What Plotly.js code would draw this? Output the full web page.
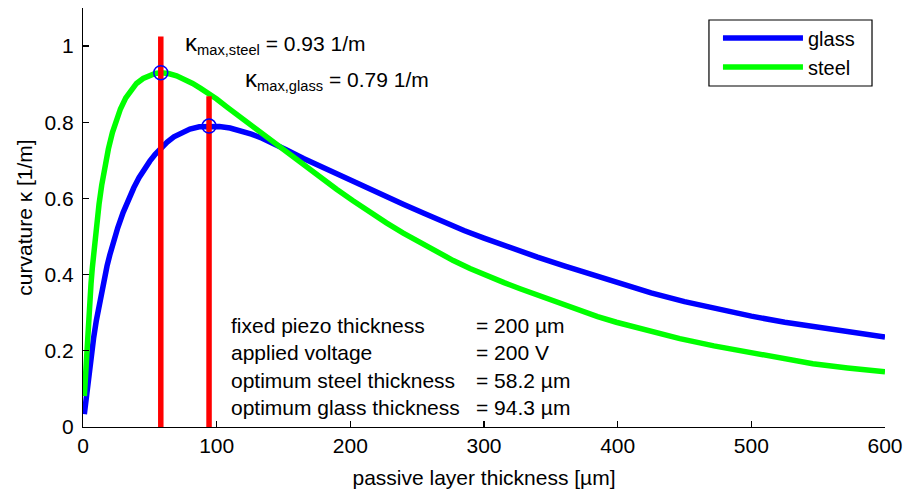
<!DOCTYPE html>
<html>
<head>
<meta charset="utf-8">
<script src="https://cdn.plot.ly/plotly-3.0.1.min.js"></script>
<style>html,body{margin:0;padding:0;background:#fff;}#chart{width:905px;height:492px;}</style>
</head>
<body>
<div id="chart"></div>
<script>
// passive layer thickness [µm] and curvature [1/m]
const glassX = [1, 2, 3, 4, 5, 6, 7, 8, 10, 12, 14, 16, 18, 20, 23, 26, 30, 34, 38, 42, 46, 50, 54, 58.2, 63, 68, 74, 80, 87, 94.3, 102, 110, 118, 126, 134, 142, 152, 165, 180, 195, 210, 225, 240, 255, 270, 285, 300, 320, 340, 360, 380, 400, 425, 450, 475, 500, 525, 550, 575, 600];
const glassY = [0.034, 0.066, 0.098, 0.128, 0.157, 0.184, 0.21, 0.235, 0.28, 0.32, 0.358, 0.392, 0.423, 0.451, 0.489, 0.523, 0.563, 0.597, 0.628, 0.655, 0.678, 0.698, 0.716, 0.733, 0.748, 0.762, 0.774, 0.782, 0.788, 0.79, 0.789, 0.785, 0.778, 0.769, 0.758, 0.746, 0.728, 0.705, 0.68, 0.655, 0.631, 0.607, 0.584, 0.561, 0.538, 0.516, 0.496, 0.47, 0.446, 0.423, 0.4, 0.379, 0.352, 0.329, 0.309, 0.291, 0.275, 0.261, 0.248, 0.236];
const steelX = [1, 2, 3, 4, 5, 6, 7, 8, 9, 10, 12, 14, 16, 19, 22, 25, 28, 32, 36, 40, 45, 50, 54, 58.2, 64, 70, 76, 82, 88, 94.3, 100, 108, 117.4, 126, 134, 142.3, 152, 162.3, 175, 189.7, 202, 215, 227, 239.6, 252, 265, 277, 289.5, 302, 315, 327, 339.3, 355, 372, 385, 399, 420, 446.5, 472, 499, 522, 546, 572, 600];
const steelY = [0.081, 0.153, 0.218, 0.276, 0.328, 0.376, 0.419, 0.458, 0.494, 0.527, 0.585, 0.635, 0.677, 0.73, 0.773, 0.807, 0.835, 0.864, 0.886, 0.902, 0.915, 0.924, 0.928, 0.93, 0.928, 0.922, 0.913, 0.902, 0.889, 0.875, 0.861, 0.839, 0.814, 0.792, 0.772, 0.751, 0.725, 0.697, 0.662, 0.624, 0.594, 0.563, 0.536, 0.509, 0.484, 0.459, 0.437, 0.416, 0.397, 0.379, 0.363, 0.347, 0.327, 0.305, 0.29, 0.275, 0.255, 0.232, 0.213, 0.195, 0.18, 0.166, 0.155, 0.145];
const optX = [58.2, 94.3];          // optimum steel, optimum glass thickness
const optK = [0.93, 0.79];          // maximum curvatures
const redTop = [1.025, 0.868];      // top of the red marker lines
const xTicks = [0, 100, 200, 300, 400, 500, 600];
const yTicks = [0, 0.2, 0.4, 0.6, 0.8, 1];
const yTickText = ["0", "0.2", "0.4", "0.6", "0.8", "1"];
const infoLabels = ["fixed piezo thickness", "applied voltage", "optimum steel thickness", "optimum glass thickness"];
const infoValues = ["= 200 \u00b5m", "= 200 V", "= 58.2 \u00b5m", "= 94.3 \u00b5m"];
const infoY = [0.267, 0.196, 0.123, 0.050];

const FONT = "Liberation Sans, Arial, Helvetica, sans-serif";
const FS = 21;

const traces = [
  {x: glassX, y: glassY, mode: "lines", name: "glass", line: {color: "#0000ff", width: 5.5}},
  {x: steelX, y: steelY, mode: "lines", name: "steel", line: {color: "#00ff00", width: 5.5}},
  {x: [optX[0], optX[0]], y: [0, redTop[0]], mode: "lines", showlegend: false, line: {color: "#ff0000", width: 5.5}},
  {x: [optX[1], optX[1]], y: [0, redTop[1]], mode: "lines", showlegend: false, line: {color: "#ff0000", width: 5.5}},
  {x: optX, y: optK, mode: "markers", showlegend: false,
   marker: {symbol: "circle-open", size: 14, color: "#0000ff", line: {width: 1.5, color: "#0000ff"}}}
];

const annotations = [
  {x: 74.8, y: 1.008, xref: "x", yref: "y", xanchor: "left", yanchor: "middle", showarrow: false,
   text: "<span style='font-size:24px'>\u03ba</span><sub>max,steel</sub> = 0.93 1/m", font: {family: FONT, size: FS, color: "#000"}},
  {x: 119.7, y: 0.912, xref: "x", yref: "y", xanchor: "left", yanchor: "middle", showarrow: false,
   text: "<span style='font-size:24px'>\u03ba</span><sub>max,glass</sub> = 0.79 1/m", font: {family: FONT, size: FS, color: "#000"}}
];
for (let i = 0; i < infoLabels.length; i++) {
  annotations.push({x: 109.2, y: infoY[i], xref: "x", yref: "y", xanchor: "left", yanchor: "middle", showarrow: false,
    text: infoLabels[i], font: {family: FONT, size: FS, color: "#000"}});
  annotations.push({x: 292.4, y: infoY[i], xref: "x", yref: "y", xanchor: "left", yanchor: "middle", showarrow: false,
    text: infoValues[i], font: {family: FONT, size: FS, color: "#000"}});
}

const layout = {
  width: 905, height: 492,
  margin: {l: 83, r: 20, t: 8, b: 65},
  paper_bgcolor: "#fff", plot_bgcolor: "#fff",
  font: {family: FONT, size: FS, color: "#000"},
  showlegend: true,
  legend: {x: 0.7805, y: 0.975, xanchor: "left", yanchor: "top", borderwidth: 0,
           bgcolor: "rgba(0,0,0,0)", font: {family: FONT, size: 20, color: "#000"}, itemwidth: 80, indentation: 9,
           tracegroupgap: 0},
  shapes: [
    {type: "rect", xref: "paper", yref: "paper", x0: 0.7805, x1: 0.9838, y0: 0.8138, y1: 0.9714,
     line: {color: "#000", width: 1.2}, fillcolor: "rgba(0,0,0,0)", layer: "above"}
  ],
  xaxis: {range: [0, 600], tickvals: xTicks, ticks: "inside", ticklen: 6, tickwidth: 1.2, tickcolor: "#000",
          showline: true, linecolor: "#000", linewidth: 1.2, showgrid: false, zeroline: false,
          tickfont: {family: FONT, size: FS, color: "#000"},
          title: {text: "passive layer thickness [\u00b5m]", font: {family: FONT, size: FS, color: "#000"}, standoff: 13}},
  yaxis: {range: [0, 1.1], tickvals: yTicks, ticktext: yTickText, ticks: "inside", ticklen: 6, tickwidth: 1.2, tickcolor: "#000",
          showline: true, linecolor: "#000", linewidth: 1.2, showgrid: false, zeroline: false,
          tickfont: {family: FONT, size: FS, color: "#000"}, ticklabelstandoff: 4,
          title: {text: "curvature \u03ba [1/m]", font: {family: FONT, size: FS, color: "#000"}, standoff: 6}},
  annotations: annotations
};

Plotly.newPlot("chart", traces, layout, {staticPlot: true, displayModeBar: false});
</script>
</body>
</html>
